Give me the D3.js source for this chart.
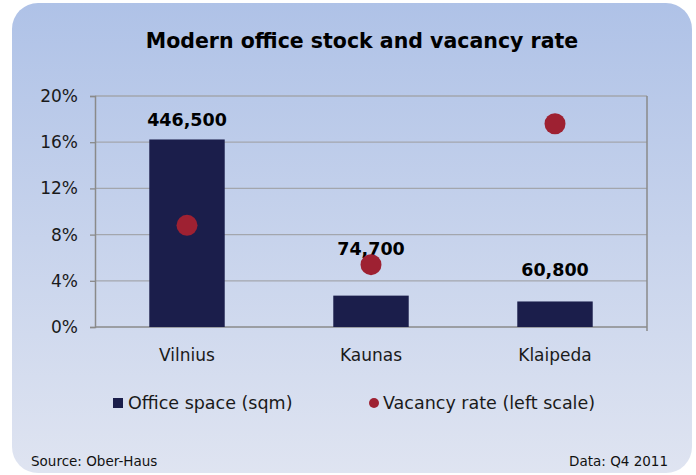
<!DOCTYPE html>
<html>
<head>
<meta charset="utf-8">
<script src="https://cdn.jsdelivr.net/npm/d3@7"></script>
<style>
  body { margin: 0; background: #fff; }
  text { font-family: "DejaVu Sans", Verdana, sans-serif; }
</style>
</head>
<body>
<div id="chart"></div>
<script>
// chart data
let cities = ["Vilnius", "Kaunas", "Klaipeda"];
let officeSpace = [446500, 74700, 60800];
let vacancyRate = [8.8, 5.4, 17.6];
let pctTicks = [0, 4, 8, 12, 16, 20];
// how far each value label sits above its bar (px), Excel moved them around the dots
let labelLift = [13, 41, 25];

function init() {
    let width = 696, height = 475;
    let margin = {left: 95, right: 49, top: 96, bottom: 148};

    let svg = d3.select("#chart").append("svg")
        .attr("width", width)
        .attr("height", height);

    // background panel with gradient
    let grad = svg.append("defs").append("linearGradient")
        .attr("id", "bg").attr("x1", 0).attr("y1", 0).attr("x2", 0).attr("y2", 1);
    grad.append("stop").attr("offset", "0%").attr("stop-color", "#afc2e7");
    grad.append("stop").attr("offset", "100%").attr("stop-color", "#dfe4f1");

    svg.append("rect")
        .attr("x", 12).attr("y", 3)
        .attr("width", 680).attr("height", 470)
        .attr("rx", 26).attr("ry", 26)
        .attr("fill", "url(#bg)");

    // title
    svg.append("text")
        .attr("x", 362).attr("y", 48)
        .attr("text-anchor", "middle")
        .style("font-size", "20.5px")
        .style("font-weight", "bold")
        .attr("fill", "#000")
        .text("Modern office stock and vacancy rate");

    let x0 = margin.left, x1 = width - margin.right;
    let y0 = height - margin.bottom, y1 = margin.top;

    let x = d3.scaleBand().domain(cities).range([x0, x1]).padding(0);
    let yPct = d3.scaleLinear().domain([0, 20]).range([y0, y1]);
    let ySqm = d3.scaleLinear().domain([0, 550000]).range([y0, y1]);
    let barW = x.bandwidth() * 0.41;

    // gridlines
    svg.selectAll(".grid")
        .data(pctTicks.slice(1))
        .join("line")
        .attr("class", "grid")
        .attr("x1", x0).attr("x2", x1)
        .attr("y1", d => yPct(d)).attr("y2", d => yPct(d))
        .attr("stroke", "#a3a6ad")
        .attr("stroke-width", 1.3);

    // left axis
    let leftAxis = svg.append("g")
        .attr("transform", "translate(" + x0 + ",0)")
        .call(d3.axisLeft(yPct).tickValues(pctTicks).tickFormat(d => d + "%").tickSize(5).tickPadding(12));
    leftAxis.select(".domain").attr("stroke", "#8a8a8a").attr("stroke-width", 1.5);
    leftAxis.selectAll(".tick line").attr("stroke", "#8a8a8a").attr("stroke-width", 1.3);
    leftAxis.selectAll(".tick text")
        .style("font-size", "17px")
        .attr("fill", "#1a1a1a");

    // right axis (no labels)
    svg.append("line")
        .attr("x1", x1).attr("x2", x1)
        .attr("y1", y1).attr("y2", y0 + 4)
        .attr("stroke", "#8a8a8a").attr("stroke-width", 1.5);

    // bottom axis
    svg.append("line")
        .attr("x1", x0).attr("x2", x1)
        .attr("y1", y0).attr("y2", y0)
        .attr("stroke", "#8a8a8a").attr("stroke-width", 1.5);

    svg.selectAll(".cat")
        .data(cities)
        .join("text")
        .attr("class", "cat")
        .attr("x", d => x(d) + x.bandwidth() / 2)
        .attr("y", y0 + 34)
        .attr("text-anchor", "middle")
        .style("font-size", "17px")
        .attr("fill", "#1a1a1a")
        .text(d => d);

    // bars
    svg.selectAll(".bar")
        .data(cities)
        .join("rect")
        .attr("class", "bar")
        .attr("x", d => x(d) + x.bandwidth() / 2 - barW / 2)
        .attr("width", barW)
        .attr("y", (d, i) => ySqm(officeSpace[i]))
        .attr("height", (d, i) => y0 - ySqm(officeSpace[i]))
        .attr("fill", "#1b1e4b");

    // bar value labels
    svg.selectAll(".val")
        .data(cities)
        .join("text")
        .attr("class", "val")
        .attr("x", d => x(d) + x.bandwidth() / 2)
        .attr("y", (d, i) => ySqm(officeSpace[i]) - labelLift[i])
        .attr("text-anchor", "middle")
        .style("font-size", "17.5px")
        .style("font-weight", "bold")
        .attr("fill", "#000")
        .text((d, i) => d3.format(",")(officeSpace[i]));

    // vacancy dots
    svg.selectAll(".dot")
        .data(cities)
        .join("circle")
        .attr("class", "dot")
        .attr("cx", d => x(d) + x.bandwidth() / 2)
        .attr("cy", (d, i) => yPct(vacancyRate[i]))
        .attr("r", 10.5)
        .attr("fill", "#9e2132");

    // legend
    let legend = svg.append("g");
    legend.append("rect")
        .attr("x", 113).attr("y", 398)
        .attr("width", 10).attr("height", 10)
        .attr("fill", "#1b1e4b");
    legend.append("text")
        .attr("x", 128).attr("y", 409)
        .style("font-size", "17.5px")
        .attr("fill", "#1a1a1a")
        .text("Office space (sqm)");
    legend.append("circle")
        .attr("cx", 374).attr("cy", 403)
        .attr("r", 5)
        .attr("fill", "#9e2132");
    legend.append("text")
        .attr("x", 383).attr("y", 409)
        .style("font-size", "17.5px")
        .attr("fill", "#1a1a1a")
        .text("Vacancy rate (left scale)");

    // footer notes
    svg.append("text")
        .attr("x", 31).attr("y", 466)
        .style("font-size", "13.5px")
        .attr("fill", "#111")
        .text("Source: Ober-Haus");
    svg.append("text")
        .attr("x", 668).attr("y", 466)
        .attr("text-anchor", "end")
        .style("font-size", "13.5px")
        .attr("fill", "#111")
        .text("Data: Q4 2011");
}
window.onload = init;
</script>
</body>
</html>
